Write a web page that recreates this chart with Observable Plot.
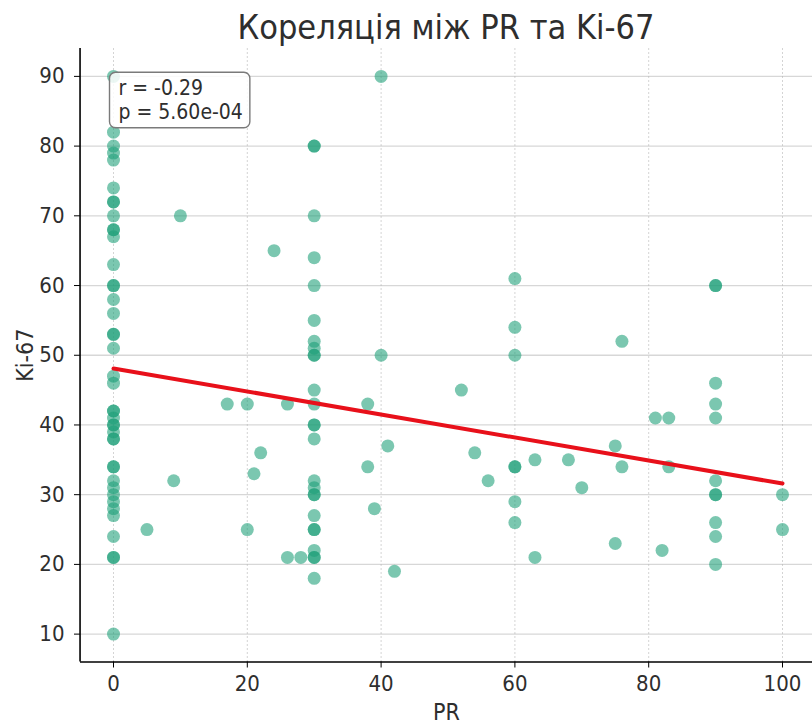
<!DOCTYPE html>
<html>
<head>
<meta charset="utf-8">
<script src="https://cdn.jsdelivr.net/npm/d3@7"></script>
<script src="https://cdn.jsdelivr.net/npm/@observablehq/plot@0.6"></script>
<style>
  body { margin: 0; background: #fff; }
  #wrap { width: 812px; font-family: "DejaVu Sans Condensed", "DejaVu Sans", sans-serif; font-stretch: condensed; }
  #title { height: 48px; padding-left: 80px; box-sizing: border-box; text-align: center;
           font-size: 34px; line-height: 54px; color: #2e2e2e; white-space: nowrap; }
  svg { overflow: visible; }
</style>
</head>
<body>
<div id="wrap">
  <div id="title">Кореляція між PR та Ki-67</div>
  <div id="chart"></div>
</div>
<script>
// PR (%) and Ki-67 (%) per patient
const pr = [
  0,0,0,0,0,0,0,0,0,0,0,0,0,0,0,0,0,0,0,0,0,0,0,0,0,0,0,0,0,0,0,0,0,0,0,0,0,0,0,0,0,0,
  5,9,10,17,20,20,21,22,24,26,26,28,
  30,30,30,30,30,30,30,30,30,30,30,30,30,30,30,30,30,30,30,30,30,30,30,30,30,30,
  38,38,39,40,40,41,42,
  52,54,56,60,60,60,60,60,60,60,63,63,68,70,75,75,76,76,81,82,83,83,
  90,90,90,90,90,90,90,90,90,90,90,
  100,100
];
const ki67 = [
  90,82,80,79,78,74,72,72,70,68,68,67,63,60,60,58,56,53,53,51,47,46,42,42,41,40,40,39,38,38,34,34,32,31,30,29,28,27,24,21,21,10,
  25,32,70,43,43,25,33,36,65,43,21,21,
  80,80,70,64,60,55,52,51,50,50,45,43,40,40,38,32,31,30,30,27,25,25,22,21,21,18,
  43,34,28,90,50,37,19,
  45,36,32,61,54,50,34,34,29,26,35,21,35,31,37,23,52,34,41,22,41,34,
  60,60,46,43,41,32,30,30,26,24,20,
  30,25
];

// Pearson statistics and least-squares fit shown on the chart
const r = -0.29;
const pValue = "5.60e-04";
const fitIntercept = 48.1;
const fitSlope = -0.165;
const fitRange = [0, 100];

const xDomain = [-5, 105];
const yDomain = [6, 94];
const xTicks = [0, 20, 40, 60, 80, 100];
const yTicks = [10, 20, 30, 40, 50, 60, 70, 80, 90];

const points = pr.map((x, i) => ({pr: x, ki67: ki67[i]}));
const fitLine = fitRange.map(x => ({pr: x, ki67: fitIntercept + fitSlope * x}));

const font = '"DejaVu Sans Condensed", "DejaVu Sans", sans-serif';

const chart = Plot.plot({
  width: 812,
  height: 679,
  marginLeft: 80,
  marginRight: 0,
  marginTop: 0,
  marginBottom: 65.5,
  style: {fontFamily: font, fontStretch: "condensed", color: "#2e2e2e", background: "transparent"},
  x: {domain: xDomain, range: [79.55, 815.45]},
  y: {domain: yDomain},
  marks: [
    Plot.gridY(yTicks, {stroke: "#b0b0b0", strokeOpacity: 0.5, strokeWidth: 1.3}),
    Plot.gridX(xTicks, {stroke: "#b0b0b0", strokeOpacity: 0.55, strokeWidth: 1, strokeDasharray: "2,2"}),
    Plot.dot(points, {x: "pr", y: "ki67", r: 6.5, fill: "#1b9e77", fillOpacity: 0.58, stroke: "none"}),
    Plot.line(fitLine, {x: "pr", y: "ki67", stroke: "#e8101a", strokeWidth: 4}),
    Plot.ruleX([xDomain[0]], {stroke: "#000", strokeWidth: 1.6}),
    Plot.ruleY([yDomain[0]], {stroke: "#000", strokeWidth: 1.6}),
    Plot.axisX(xTicks, {tickSize: 6, tickPadding: 7, fontSize: 22, stroke: "#000",
      label: "PR", labelAnchor: "center", labelArrow: "none", labelOffset: 58}),
    Plot.axisY(yTicks, {tickSize: 6, tickPadding: 10, fontSize: 22, stroke: "#000",
      label: "Ki-67", labelAnchor: "center", labelArrow: "none", labelOffset: 64}),
    Plot.text([`r = ${r.toFixed(2)}\np = ${pValue}`], {
      frameAnchor: "top-left", dx: 38, dy: 30, lineAnchor: "top", textAnchor: "start",
      fontSize: 21, lineHeight: 1.12, fill: "#2e2e2e", className: "stats"
    })
  ]
});

document.getElementById("chart").appendChild(chart);

// rounded box behind the statistics label
const statsText = chart.querySelector(".stats text");
if (statsText) {
  const bb = statsText.getBBox();
  const g = statsText.parentNode;
  const rect = document.createElementNS("http://www.w3.org/2000/svg", "rect");
  rect.setAttribute("x", bb.x - 9);
  rect.setAttribute("y", bb.y - 4);
  rect.setAttribute("width", bb.width + 16);
  rect.setAttribute("height", bb.height + 8);
  rect.setAttribute("rx", 6);
  rect.setAttribute("fill", "#fff");
  rect.setAttribute("fill-opacity", 0.85);
  rect.setAttribute("stroke", "#7a7a7a");
  rect.setAttribute("stroke-width", 1.4);
  const tr = statsText.getAttribute("transform");
  if (tr) rect.setAttribute("transform", tr);
  g.insertBefore(rect, statsText);
}
// axis label sizes
chart.querySelectorAll("[aria-label='x-axis label'] text, [aria-label='y-axis label'] text")
  .forEach(t => t.setAttribute("font-size", 23));
</script>
</body>
</html>
